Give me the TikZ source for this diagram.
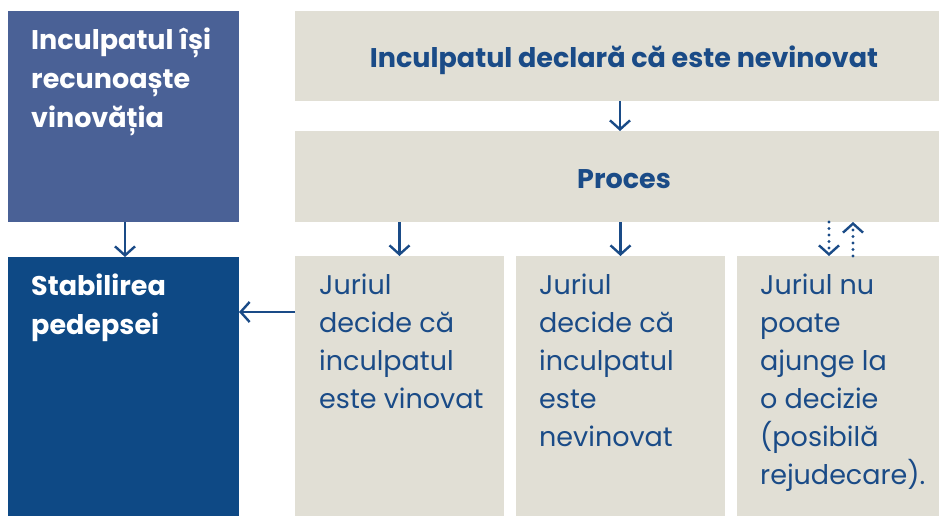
\documentclass[tikz,border=0pt]{standalone}
\usepackage{fontspec}
\setmainfont{Poppins}
\usetikzlibrary{arrows.meta}
\definecolor{midblue}{HTML}{4A6196}
\definecolor{darkblue}{HTML}{0E4985}
\definecolor{beige}{HTML}{E1DFD5}
\definecolor{txtblue}{HTML}{1A4B87}
\newcommand{\lines}[1]{\parbox[t]{200pt}{\raggedright #1}}
\tikzset{
  box/.style={rectangle, anchor=north west, inner sep=0pt, outer sep=0pt, draw=none},
  bluebox/.style={box, fill=midblue},
  navybox/.style={box, fill=darkblue},
  beigebox/.style={box, fill=beige},
  boldtxt/.style={anchor=base west, inner sep=0pt, font=\fontsize{27}{39}\selectfont\bfseries},
  regtxt/.style={anchor=base west, inner sep=0pt, font=\fontsize{27}{38}\selectfont, text=txtblue},
  headtxt/.style={anchor=base, inner sep=0pt, font=\fontsize{27}{39}\selectfont\bfseries, text=txtblue},
  conn/.style={draw=txtblue, line width=2.4pt, -{Straight Barb[length=9pt,width=20pt,line width=2.4pt]}},
  dotconn/.style={draw=txtblue, line width=3.2pt, line cap=round, dash pattern=on 0pt off 6.5pt, -{Straight Barb[length=9pt,width=20pt,line width=2.4pt]}}
}
\begin{document}
\begin{tikzpicture}[x=1pt,y=-1pt]
\useasboundingbox (0,0) rectangle (939,516);
% boxes
\node[bluebox, minimum width=231pt, minimum height=211pt] (tl) at (8,11) {};
\node[navybox, minimum width=231pt, minimum height=259pt] (stab) at (8,257) {};
\node[beigebox, minimum width=644pt, minimum height=90pt] (decl) at (295,11) {};
\node[beigebox, minimum width=644pt, minimum height=91pt] (proc) at (295,131) {};
\node[beigebox, minimum width=209pt, minimum height=260pt] (j1) at (295,256) {};
\node[beigebox, minimum width=209pt, minimum height=260pt] (j2) at (516,256) {};
\node[beigebox, minimum width=202pt, minimum height=260pt] (j3) at (737,256) {};
% texts
\node[boldtxt, text=white] (tltxt) at (31,50) {\lines{Inculpatul își\\recunoaște\\vinovăția}};
\node[boldtxt, text=white] (stabtxt) at (31,295) {\lines{Stabilirea\\pedepsei}};
\node[headtxt] (decltxt) at (624,68) {Inculpatul declară că este nevinovat};
\node[headtxt] (proctxt) at (624,188) {Proces};
\node[regtxt] (j1txt) at (319,294) {\lines{Juriul\\decide că\\inculpatul\\este vinovat}};
\node[regtxt] (j2txt) at (539,294) {\lines{Juriul\\decide că\\inculpatul\\este\\nevinovat}};
\node[regtxt] (j3txt) at (760,294) {\lines{Juriul nu\\poate\\ajunge la\\o decizie\\(posibilă\\rejudecare).}};
% connectors
\draw[conn] (tl.south -| 125,0) -- (stab.north -| 125,0);
\draw[conn] (decl.south -| 620,0) -- (proc.north -| 620,0);
\draw[conn] (proc.south -| j1.north) -- (j1.north);
\draw[conn] (proc.south -| j2.north) -- (j2.north);
\coordinate (dd) at (829,256);
\coordinate (du) at (853,256);
\draw[dotconn] (proc.south -| dd) -- (dd);
\draw[dotconn] (du) -- (proc.south -| du);
\coordinate (la) at (295,312);
\draw[conn] (la) -- (la -| stab.east);
\end{tikzpicture}
\end{document}
